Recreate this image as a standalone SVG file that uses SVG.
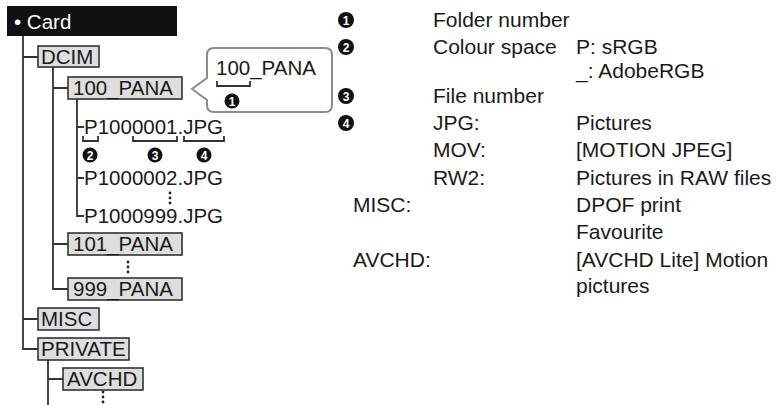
<svg xmlns="http://www.w3.org/2000/svg" width="776" height="405" viewBox="0 0 776 405">
<style>
text{font-family:"Liberation Sans",Arial,sans-serif;fill:#1a1a1a}
.t{font-size:20.5px}
.r{font-size:21px}
.box{fill:#dedede;stroke:#333;stroke-width:1.6}
.ln{fill:none;stroke:#333;stroke-width:1.8}
.num{fill:#111}
.nt{font-size:12px;font-weight:bold;fill:#fff;text-anchor:middle}
.dot{fill:#222}
</style>
<rect width="776" height="405" fill="#fff"/>
<g id="card">
<rect x="7" y="6" width="170" height="30" fill="#111"/>
<text x="14" y="29" class="t" style="fill:#fff">• Card</text>
</g>
<g id="connectors">
<path class="ln" d="M23,36 V349 H38 M23,57 H38 M23,319 H38"/>
<path class="ln" d="M53,67 V289 H68 M53,88 H68 M53,244 H68"/>
<path class="ln" d="M77,99 V216 H84 M77,127 H84 M77,178 H84"/>
<path class="ln" d="M48,360 V405 M48,379 H63"/>
<circle class="dot" cx="170" cy="193" r="1.4"/><circle class="dot" cx="170" cy="198" r="1.4"/><circle class="dot" cx="170" cy="203" r="1.4"/>
<circle class="dot" cx="128" cy="262" r="1.4"/><circle class="dot" cx="128" cy="267" r="1.4"/><circle class="dot" cx="128" cy="272" r="1.4"/>
<circle class="dot" cx="103" cy="392" r="1.4"/><circle class="dot" cx="103" cy="397" r="1.4"/><circle class="dot" cx="103" cy="402" r="1.4"/>
</g>
<g id="dcim"><rect class="box" x="38" y="46" width="61" height="21"/><text class="t" x="41" y="64">DCIM</text></g>
<g id="pana100"><rect class="box" x="68" y="77" width="114" height="22"/><text class="t" x="73" y="95">100_PANA</text></g>
<g id="file1">
<text class="t" x="84" y="134">P1000001.JPG</text>
<path class="ln" d="M83,136 V141 H98 V136 M133,136 V141 H177 V136 M184,136 V141 H224 V136"/>
<circle class="num" cx="90" cy="155" r="7.5"/><text class="nt" x="90" y="159.5">2</text>
<circle class="num" cx="155" cy="155" r="7.5"/><text class="nt" x="155" y="159.5">3</text>
<circle class="num" cx="204" cy="155" r="7.5"/><text class="nt" x="204" y="159.5">4</text>
</g>
<g id="file2"><text class="t" x="84" y="185">P1000002.JPG</text></g>
<g id="file999"><text class="t" x="84" y="223">P1000999.JPG</text></g>
<g id="pana101"><rect class="box" x="68" y="233" width="114" height="22"/><text class="t" x="73" y="251">101_PANA</text></g>
<g id="pana999"><rect class="box" x="68" y="278" width="114" height="22"/><text class="t" x="73" y="296">999_PANA</text></g>
<g id="misc"><rect class="box" x="38" y="308" width="61" height="22"/><text class="t" x="41" y="326">MISC</text></g>
<g id="private"><rect class="box" x="38" y="338" width="91" height="22"/><text class="t" x="41" y="356">PRIVATE</text></g>
<g id="avchd"><rect class="box" x="63" y="368" width="80" height="22"/><text class="t" x="67" y="386">AVCHD</text></g>
<g id="callout">
<path d="M214,48 H325 Q332,48 332,55 V105 Q332,112 325,112 H214 Q207,112 207,105 V100 L192,89 L207,78 V55 Q207,48 214,48 Z" fill="#fff" stroke="#8c8c8c" stroke-width="2"/>
<text class="t" x="216" y="75">100_PANA</text>
<path class="ln" d="M217,81 V86 H250 V81"/>
<circle class="num" cx="232" cy="101" r="7.5"/><text class="nt" x="232" y="105.5">1</text>
</g>
<g id="legend">
<circle class="num" cx="346" cy="20" r="8"/><text class="nt" x="346" y="24.5">1</text>
<circle class="num" cx="346" cy="47" r="8"/><text class="nt" x="346" y="51.5">2</text>
<circle class="num" cx="346" cy="96" r="8"/><text class="nt" x="346" y="100.5">3</text>
<circle class="num" cx="346" cy="123" r="8"/><text class="nt" x="346" y="127.5">4</text>
<text class="r" x="433" y="27">Folder number</text>
<text class="r" x="433" y="54">Colour space</text>
<text class="r" x="576" y="54">P: sRGB</text>
<text class="r" x="576" y="78">_: AdobeRGB</text>
<text class="r" x="433" y="103">File number</text>
<text class="r" x="433" y="130">JPG:</text>
<text class="r" x="576" y="130">Pictures</text>
<text class="r" x="433" y="157">MOV:</text>
<text class="r" x="576" y="157">[MOTION JPEG]</text>
<text class="r" x="433" y="185">RW2:</text>
<text class="r" x="576" y="185">Pictures in RAW files</text>
<text class="r" x="353" y="212">MISC:</text>
<text class="r" x="576" y="212">DPOF print</text>
<text class="r" x="576" y="239">Favourite</text>
<text class="r" x="353" y="267">AVCHD:</text>
<text class="r" x="576" y="267">[AVCHD Lite] Motion</text>
<text class="r" x="576" y="293">pictures</text>
</g>
</svg>
